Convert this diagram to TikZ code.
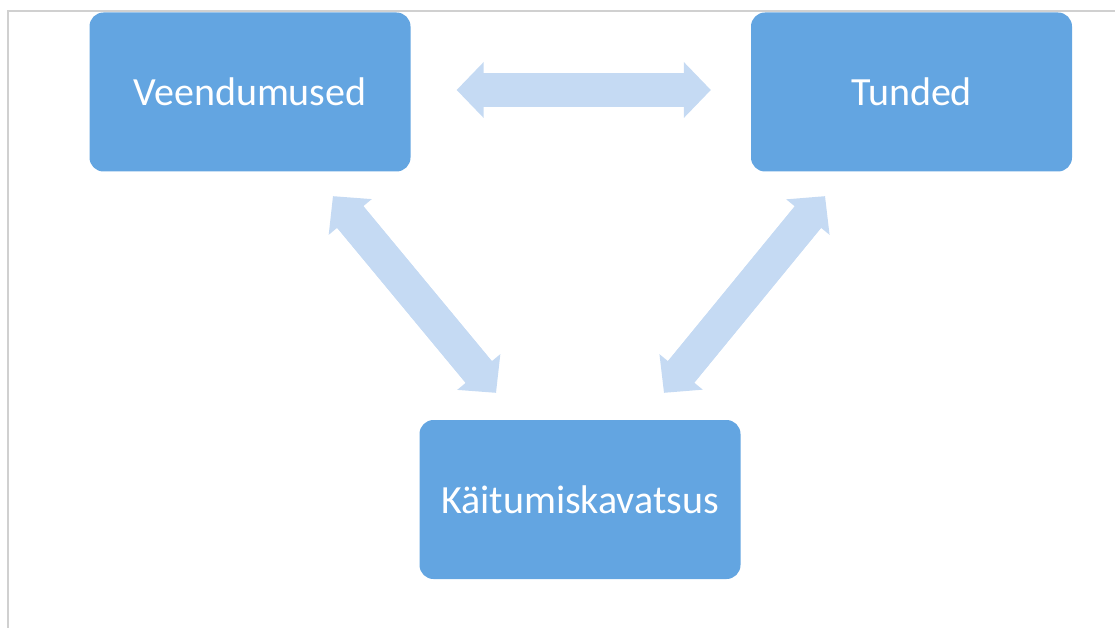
\documentclass[tikz,border=0pt]{standalone}
\usepackage{fontspec}
\setmainfont{Carlito}
\usetikzlibrary{positioning,arrows.meta,calc}
\definecolor{boxblue}{RGB}{99,165,225}
\definecolor{arrowblue}{RGB}{197,218,243}
\definecolor{framegray}{RGB}{208,208,208}

\begin{document}
\begin{tikzpicture}[x=1pt, y=-1pt,
    attitude/.style={rectangle, rounded corners=14pt, fill=boxblue, text=white,
      minimum width=321pt, minimum height=159pt, inner sep=0pt,
      font=\fontsize{40}{48}\selectfont},
    link/.style={arrowblue, line width=34pt,
      {Triangle[length=27pt,width=56pt,line width=0pt]}-{Triangle[length=27pt,width=56pt,line width=0pt]},
      postaction={draw, arrows=-, shorten <=20pt, shorten >=20pt}}]
%
    \useasboundingbox (0,0) rectangle (1115,628);
    \draw[framegray, line width=2pt] (8,628) -- (8,11) -- (1115,11);
%
    \node[attitude] (veend) at (250,92) {Veendumused};
    \node[attitude] (tund) at (911.5,92) {Tunded};
    \node[attitude] (kavat) at (580,499.5) {Käitumiskavatsus};
%
    \coordinate (hl) at ([shift={(46,-2)}]veend.east);
    \coordinate (hr) at ([shift={(-40,-2)}]tund.west);
    \coordinate (dl1) at ([shift={(83,24.5)}]veend.south);
    \coordinate (dl2) at ([shift={(-84,-27)}]kavat.north);
    \coordinate (dr1) at ([shift={(-86.5,24.5)}]tund.south);
    \coordinate (dr2) at ([shift={(84,-27)}]kavat.north);
%
    \draw[link] (hl) -- (hr);
    \draw[link] (dl1) -- (dl2);
    \draw[link] (dr1) -- (dr2);
\end{tikzpicture}
\end{document}
